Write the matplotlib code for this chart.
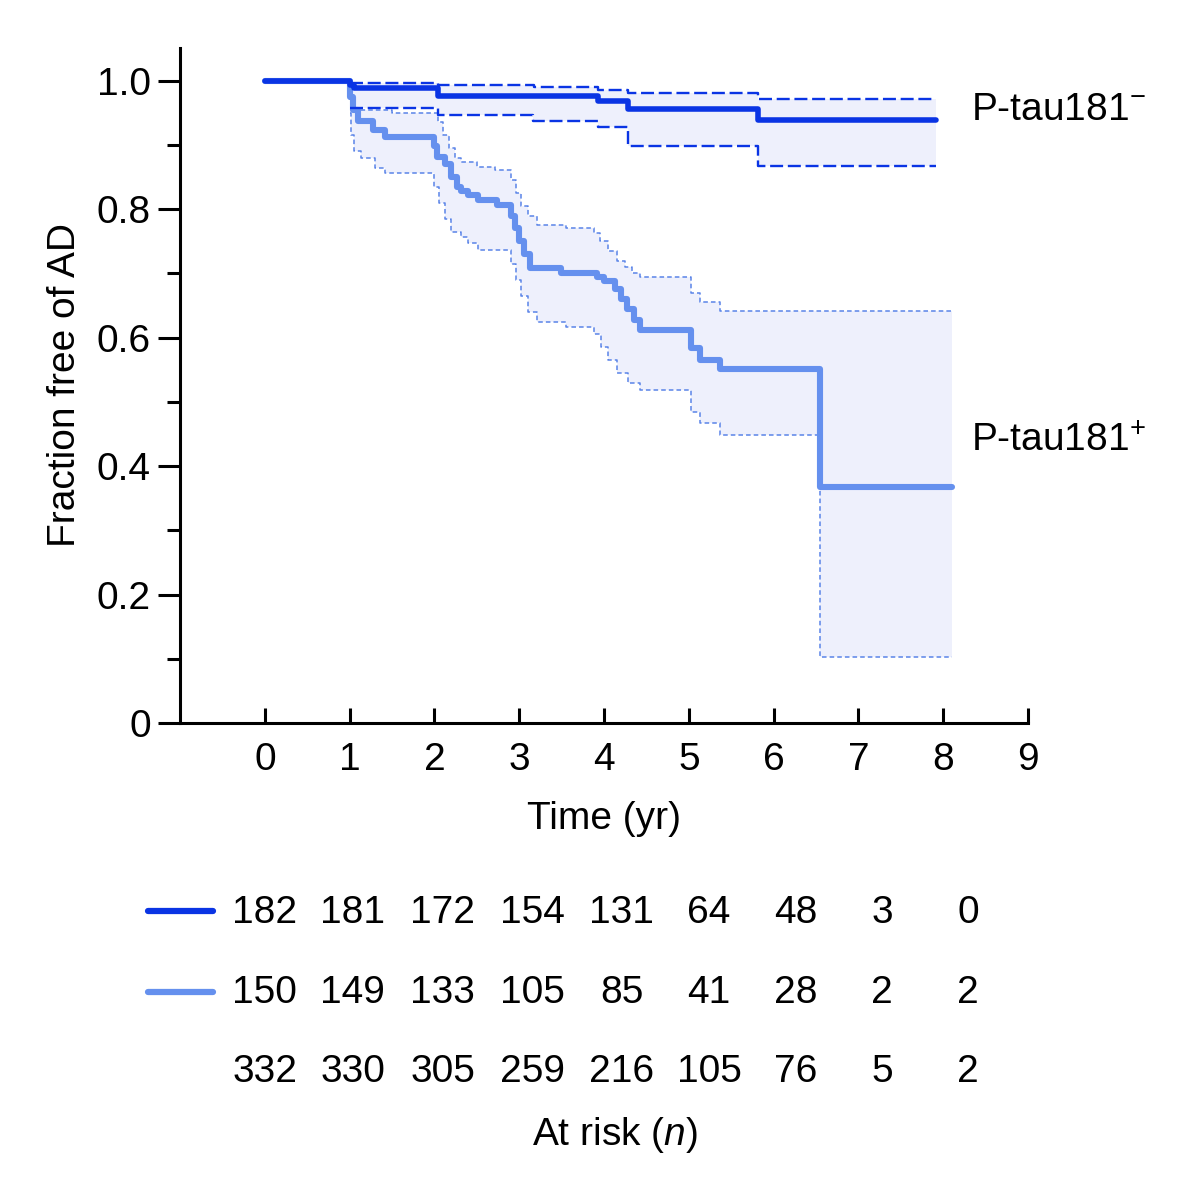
import numpy as np
import matplotlib
matplotlib.use("Agg")
import matplotlib.pyplot as plt
from matplotlib.lines import Line2D
from matplotlib.transforms import blended_transform_factory

plt.rcParams['font.family'] = ['Liberation Sans', 'DejaVu Sans']
plt.rcParams['mathtext.fontset'] = 'custom'
plt.rcParams['mathtext.rm'] = 'Liberation Sans'
plt.rcParams['mathtext.it'] = 'Liberation Sans:italic'

# Kaplan-Meier estimates (time in years)
# P-tau181 negative
neg_t = [0, 1.00, 1.05, 2.04, 3.93, 4.28, 5.82, 7.92]
neg_s = [1.0, 0.993, 0.989, 0.977, 0.969, 0.956, 0.939, 0.939]
neg_up_t = [0, 1.00, 2.04, 3.17, 3.93, 4.28, 5.82, 7.92]
neg_up = [1.0, 0.997, 0.994, 0.991, 0.986, 0.981, 0.971, 0.971]
neg_lo_t = [0, 1.00, 2.04, 3.16, 3.93, 4.28, 5.82, 7.92]
neg_lo = [1.0, 0.957, 0.947, 0.937, 0.928, 0.899, 0.867, 0.867]

# P-tau181 positive
pos_t = [0, 1.00, 1.04, 1.10, 1.28, 1.42, 1.99, 2.03, 2.13, 2.20, 2.27, 2.31,
         2.39, 2.51, 2.74, 2.90, 2.95, 3.00, 3.06, 3.13, 3.49, 3.92, 4.00,
         4.13, 4.20, 4.27, 4.35, 4.43, 5.02, 5.13, 5.37, 6.55, 8.10]
pos_s = [1.0, 0.975, 0.955, 0.937, 0.924, 0.913, 0.898, 0.882, 0.870, 0.850,
         0.835, 0.828, 0.822, 0.815, 0.807, 0.790, 0.770, 0.750, 0.730, 0.709,
         0.701, 0.694, 0.688, 0.675, 0.660, 0.645, 0.628, 0.612, 0.584, 0.565,
         0.551, 0.368, 0.368]
pos_up_t = [0, 1.00, 1.03, 1.06, 1.50, 2.04, 2.10, 2.17, 2.24, 2.31, 2.50, 2.71,
            2.90, 2.96, 3.02, 3.10, 3.21, 3.55, 3.88, 3.95, 4.05, 4.15, 4.25,
            4.33, 4.43, 5.02, 5.13, 5.37, 8.10]
pos_up = [1.0, 0.985, 0.970, 0.955, 0.950, 0.935, 0.915, 0.895, 0.880, 0.874,
          0.866, 0.861, 0.845, 0.825, 0.805, 0.790, 0.776, 0.770, 0.763, 0.750,
          0.735, 0.720, 0.710, 0.700, 0.695, 0.670, 0.656, 0.642, 0.642]
pos_lo_t = [0, 1.00, 1.02, 1.05, 1.13, 1.30, 1.42, 1.99, 2.05, 2.12, 2.20, 2.31,
            2.39, 2.51, 2.90, 2.96, 3.02, 3.10, 3.21, 3.55, 3.88, 3.96, 4.05,
            4.15, 4.28, 4.43, 5.02, 5.13, 5.37, 6.55, 8.10]
pos_lo = [1.0, 0.950, 0.915, 0.890, 0.880, 0.864, 0.856, 0.835, 0.810, 0.785,
          0.765, 0.757, 0.748, 0.737, 0.715, 0.690, 0.665, 0.640, 0.625, 0.617,
          0.605, 0.585, 0.565, 0.545, 0.530, 0.519, 0.484, 0.467, 0.449, 0.103,
          0.103]

# numbers at risk
risk_neg = [182, 181, 172, 154, 131, 64, 48, 3, 0]
risk_pos = [150, 149, 133, 105, 85, 41, 28, 2, 2]
risk_all = [332, 330, 305, 259, 216, 105, 76, 5, 2]

dark = '#0a34e4'
light = '#6590ee'
light_ci = '#5a84e8'
band = '#eef0fc'

fig = plt.figure(figsize=(11.86, 11.94), dpi=100)
ax = fig.add_axes([0.1518, 0.3945, 0.715, 0.5653])


def band_fill(t1, v1, t2, v2):
    # shade between two step curves
    tt = np.union1d(t1, t2)
    a = np.array([v1[np.searchsorted(t1, x, side='right') - 1] for x in tt])
    b = np.array([v2[np.searchsorted(t2, x, side='right') - 1] for x in tt])
    ax.fill_between(tt, b, a, step='post', color=band, lw=0, zorder=1)


band_fill(pos_up_t, pos_up, pos_lo_t, pos_lo)
band_fill(neg_up_t, neg_up, neg_lo_t, neg_lo)

ax.step(pos_up_t[1:], pos_up[1:], where='post', color=light_ci, lw=1.1,
        ls=(0, (3, 2)), zorder=2)
ax.step(pos_lo_t[1:], pos_lo[1:], where='post', color=light_ci, lw=1.1,
        ls=(0, (3, 2)), zorder=2)
ax.step(pos_t, pos_s, where='post', color=light, lw=4.4, zorder=3,
        solid_capstyle='round')

ax.step(neg_up_t[1:], neg_up[1:], where='post', color=dark, lw=1.7,
        ls=(0, (5.5, 2)), zorder=4)
ax.step(neg_lo_t[1:], neg_lo[1:], where='post', color=dark, lw=1.7,
        ls=(0, (5.5, 2)), zorder=4)
ax.step(neg_t, neg_s, where='post', color=dark, lw=4.0, zorder=5,
        solid_capstyle='round')

ax.set_xlim(-1, 9)
ax.set_ylim(0, 1.051)
ax.set_xticks(range(0, 10))
ax.set_yticks([0, 0.2, 0.4, 0.6, 0.8, 1.0])
ax.set_yticklabels(['0', '0.2', '0.4', '0.6', '0.8', '1.0'])
ax.set_yticks(np.arange(0.1, 1.0, 0.2), minor=True)
for s in ['top', 'right']:
    ax.spines[s].set_visible(False)
for s in ['left', 'bottom']:
    ax.spines[s].set_linewidth(2.2)
ax.tick_params(axis='x', direction='in', length=11, width=2.2, pad=14,
               labelsize=28)
ax.tick_params(axis='y', which='major', direction='out', length=16, width=2.2,
               pad=5, labelsize=28)
ax.tick_params(axis='y', which='minor', direction='out', length=9.5, width=2.2)

ax.set_xlabel('Time (yr)', fontsize=28, labelpad=16)
ax.set_ylabel('Fraction free of AD', fontsize=28, labelpad=10)

ax.text(8.33, 0.955, 'P-tau181$^{-}$', fontsize=28, va='center', ha='left')
ax.text(8.33, 0.439, 'P-tau181$^{+}$', fontsize=28, va='center', ha='left')

# at-risk table
tr = blended_transform_factory(ax.transData, fig.transFigure)
col_x = [0, 1.037, 2.10, 3.16, 4.21, 5.24, 6.26, 7.28, 8.29]
rows_y = [0.2354, 0.1683, 0.1022]
for row, yy in zip([risk_neg, risk_pos, risk_all], rows_y):
    for x, n in zip(col_x, row):
        ax.text(x, yy, str(n), transform=tr, fontsize=28, ha='center',
                va='center', clip_on=False)
fig.add_artist(Line2D([0.1248, 0.1796], [0.2371, 0.2371], color=dark, lw=4.5,
                      solid_capstyle='round'))
fig.add_artist(Line2D([0.1248, 0.1796], [0.1692, 0.1692], color=light, lw=4.5,
                      solid_capstyle='round'))
ax.text(4.13, 0.049, 'At risk ($\\mathit{n}$)', transform=tr,
        fontsize=28, ha='center', va='center')

fig.savefig('out.png', dpi=100)
